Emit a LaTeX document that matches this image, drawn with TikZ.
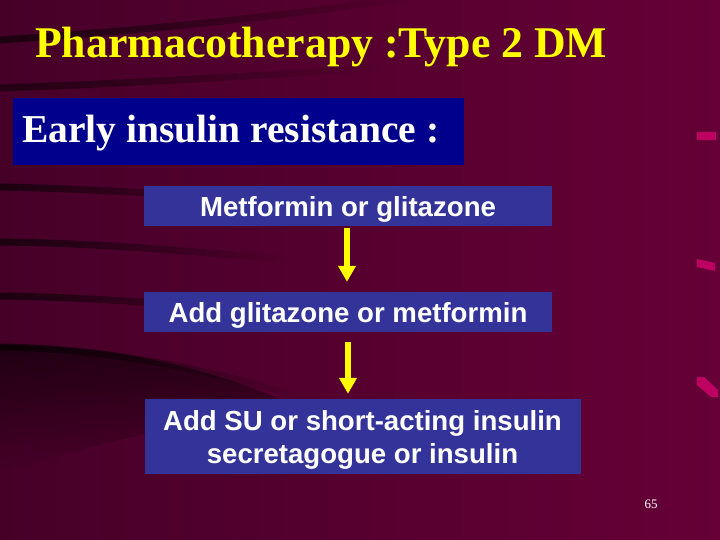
\documentclass[tikz,border=0pt]{standalone}
\usepackage{fontspec}
\setmainfont{Liberation Serif}
\setsansfont{Liberation Sans}
\usetikzlibrary{arrows.meta,fadings}
\definecolor{bgL}{RGB}{70,0,40}
\definecolor{bgR}{RGB}{102,0,54}
\definecolor{navy}{RGB}{0,0,140}
\definecolor{boxblue}{RGB}{51,51,153}
\definecolor{pinkmark}{RGB}{205,0,105}
\definecolor{ttl}{RGB}{255,255,0}
\tikzset{
  streak/.style={draw=black,line width=7pt,opacity=0.6,path fading=east},
  stepbox/.style={fill=boxblue,draw=none,text=white,font=\sffamily\bfseries\fontsize{27.6}{33}\selectfont,align=center,inner sep=0pt},
  flowarrow/.style={draw=ttl,line width=6pt,-{Triangle[width=17pt,length=16pt]}},
  pinkdash/.style={fill=pinkmark,draw=none,opacity=0.85}
}
\begin{document}
\begin{tikzpicture}[x=1pt,y=-1pt]
\useasboundingbox (0,0) rectangle (720,540);
\shade[left color=bgL,right color=bgR] (0,0) rectangle (720,540);
% dark streaks
\draw[streak] (0,40) .. controls (120,32) and (260,20) .. (420,-4);
\draw[streak,opacity=0.5] (0,88) .. controls (120,84) and (250,76) .. (380,68);
\draw[streak] (0,187) .. controls (60,188) and (140,192) .. (270,200);
\draw[streak] (0,242) .. controls (80,243) and (160,248) .. (290,260);
\draw[streak] (0,296) .. controls (80,297) and (170,303) .. (290,314);
\draw[streak] (0,347) .. controls (80,348) and (180,360) .. (310,400);
\fill[black,opacity=0.55,path fading=south] (0,345) .. controls (100,345) and (200,362) .. (300,408) .. controls (200,420) and (100,440) .. (0,475) -- cycle;
% pink marks
\fill[pinkdash] (697,132) -- (716,132) -- (716,140) -- (697,140) -- cycle;
\fill[pinkdash] (697,259) -- (715,263) -- (715,271) -- (697,267) -- cycle;
\fill[pinkdash] (697,377) -- (704,377) -- (718,390) -- (718,397) -- (711,397) -- (697,385) -- cycle;
% title
\node[anchor=base west,text=ttl,font=\bfseries\fontsize{43.8}{50}\selectfont,inner sep=0pt] (title) at (35,58) {Pharmacotherapy :Type 2 DM};
% early box
\node[fill=navy,minimum width=451pt,minimum height=67pt,inner sep=0pt] (early) at (238.5,131.5) {};
\node[anchor=base west,text=white,font=\bfseries\fontsize{39.5}{46}\selectfont,inner sep=0pt] (earlytext) at (22,143) {Early insulin resistance :};
% flow boxes
\node[stepbox,minimum width=408pt,minimum height=40pt,text height=22pt,text depth=2pt] (b1) at (348,206) {Metformin or glitazone};
\node[stepbox,minimum width=408pt,minimum height=40pt,text height=22pt,text depth=2pt] (b2) at (348,312) {Add glitazone or metformin};
\node[stepbox,minimum width=436pt,minimum height=75pt,text height=55pt,text depth=2pt] (b3) at (362.5,436.5) {Add SU or short-acting insulin\\secretagogue or insulin};
% arrows
\draw[flowarrow,shorten <=2pt,shorten >=10pt] (b1.south -| 347,0) -- (b2.north -| 347,0);
\draw[flowarrow,shorten <=10pt,shorten >=5pt] (b2.south -| 348,0) -- (b3.north -| 348,0);
% page number
\node[text=white,font=\fontsize{13}{15}\selectfont,inner sep=0pt] (pg) at (651,504) {65};
\end{tikzpicture}
\end{document}
